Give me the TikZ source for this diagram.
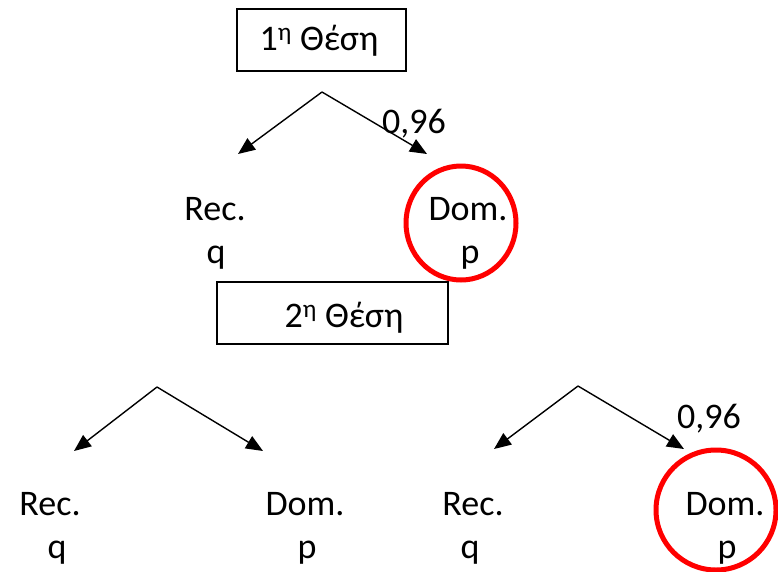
\documentclass[tikz,border=0pt]{standalone}
\usepackage{fontspec}
\setmainfont{Carlito}
\usetikzlibrary{arrows.meta}
\begin{document}
\begin{tikzpicture}[x=1pt,y=-1pt,
  lbl/.style={inner sep=0pt,anchor=base,font=\fontsize{36}{43}\selectfont},
  posbox/.style={draw,line width=1.3pt,inner sep=0pt,font=\fontsize{36}{43}\selectfont},
  arr/.style={line width=1.4pt,-{Triangle[length=17pt,width=14pt]}},
  mark circ/.style={draw=red,line width=5pt}]
\useasboundingbox (0,0) rectangle (778,571);
% boxes
\node[posbox,minimum width=169pt,minimum height=62pt] (b1) at (321.5,40) {};
\node[lbl] (t1) at (319,50) {1\textsuperscript{η} Θέση};
\node[posbox,minimum width=231pt,minimum height=62pt] (b2) at (332.5,313) {};
\node[lbl] (t2) at (344,327) {2\textsuperscript{η} Θέση};
% top tree
\coordinate (a1) at (322,92);
\coordinate (l1) at (238,154);
\coordinate (r1) at (427,154);
\draw[arr] (a1) -- (l1);
\draw[arr] (a1) -- (r1);
\node[lbl] (p1) at (414,133) {0,96};
\node[lbl] (rec1) at (215,220) {Rec.};
\node[lbl] (q1) at (216,263) {q};
\node[lbl] (dom1) at (468,220) {Dom.};
\node[lbl] (pp1) at (470,263) {p};
\draw[mark circ] (461,223) ellipse [x radius=55, y radius=57];
% bottom left tree
\coordinate (a2) at (157,387);
\coordinate (l2) at (74,451);
\coordinate (r2) at (263,451);
\draw[arr] (a2) -- (l2);
\draw[arr] (a2) -- (r2);
\node[lbl] (rec2) at (50,515) {Rec.};
\node[lbl] (q2) at (57,558) {q};
\node[lbl] (dom2) at (305,515) {Dom.};
\node[lbl] (pp2) at (307,558) {p};
% bottom right tree
\coordinate (a3) at (578,386);
\coordinate (l3) at (494,449);
\coordinate (r3) at (684,449);
\draw[arr] (a3) -- (l3);
\draw[arr] (a3) -- (r3);
\node[lbl] (p3) at (709,428) {0,96};
\node[lbl] (rec3) at (473,515) {Rec.};
\node[lbl] (q3) at (470,558) {q};
\node[lbl] (dom3) at (725,515) {Dom.};
\node[lbl] (pp3) at (727,558) {p};
\draw[mark circ] (716,510) ellipse [x radius=60, y radius=60];
\end{tikzpicture}
\end{document}
